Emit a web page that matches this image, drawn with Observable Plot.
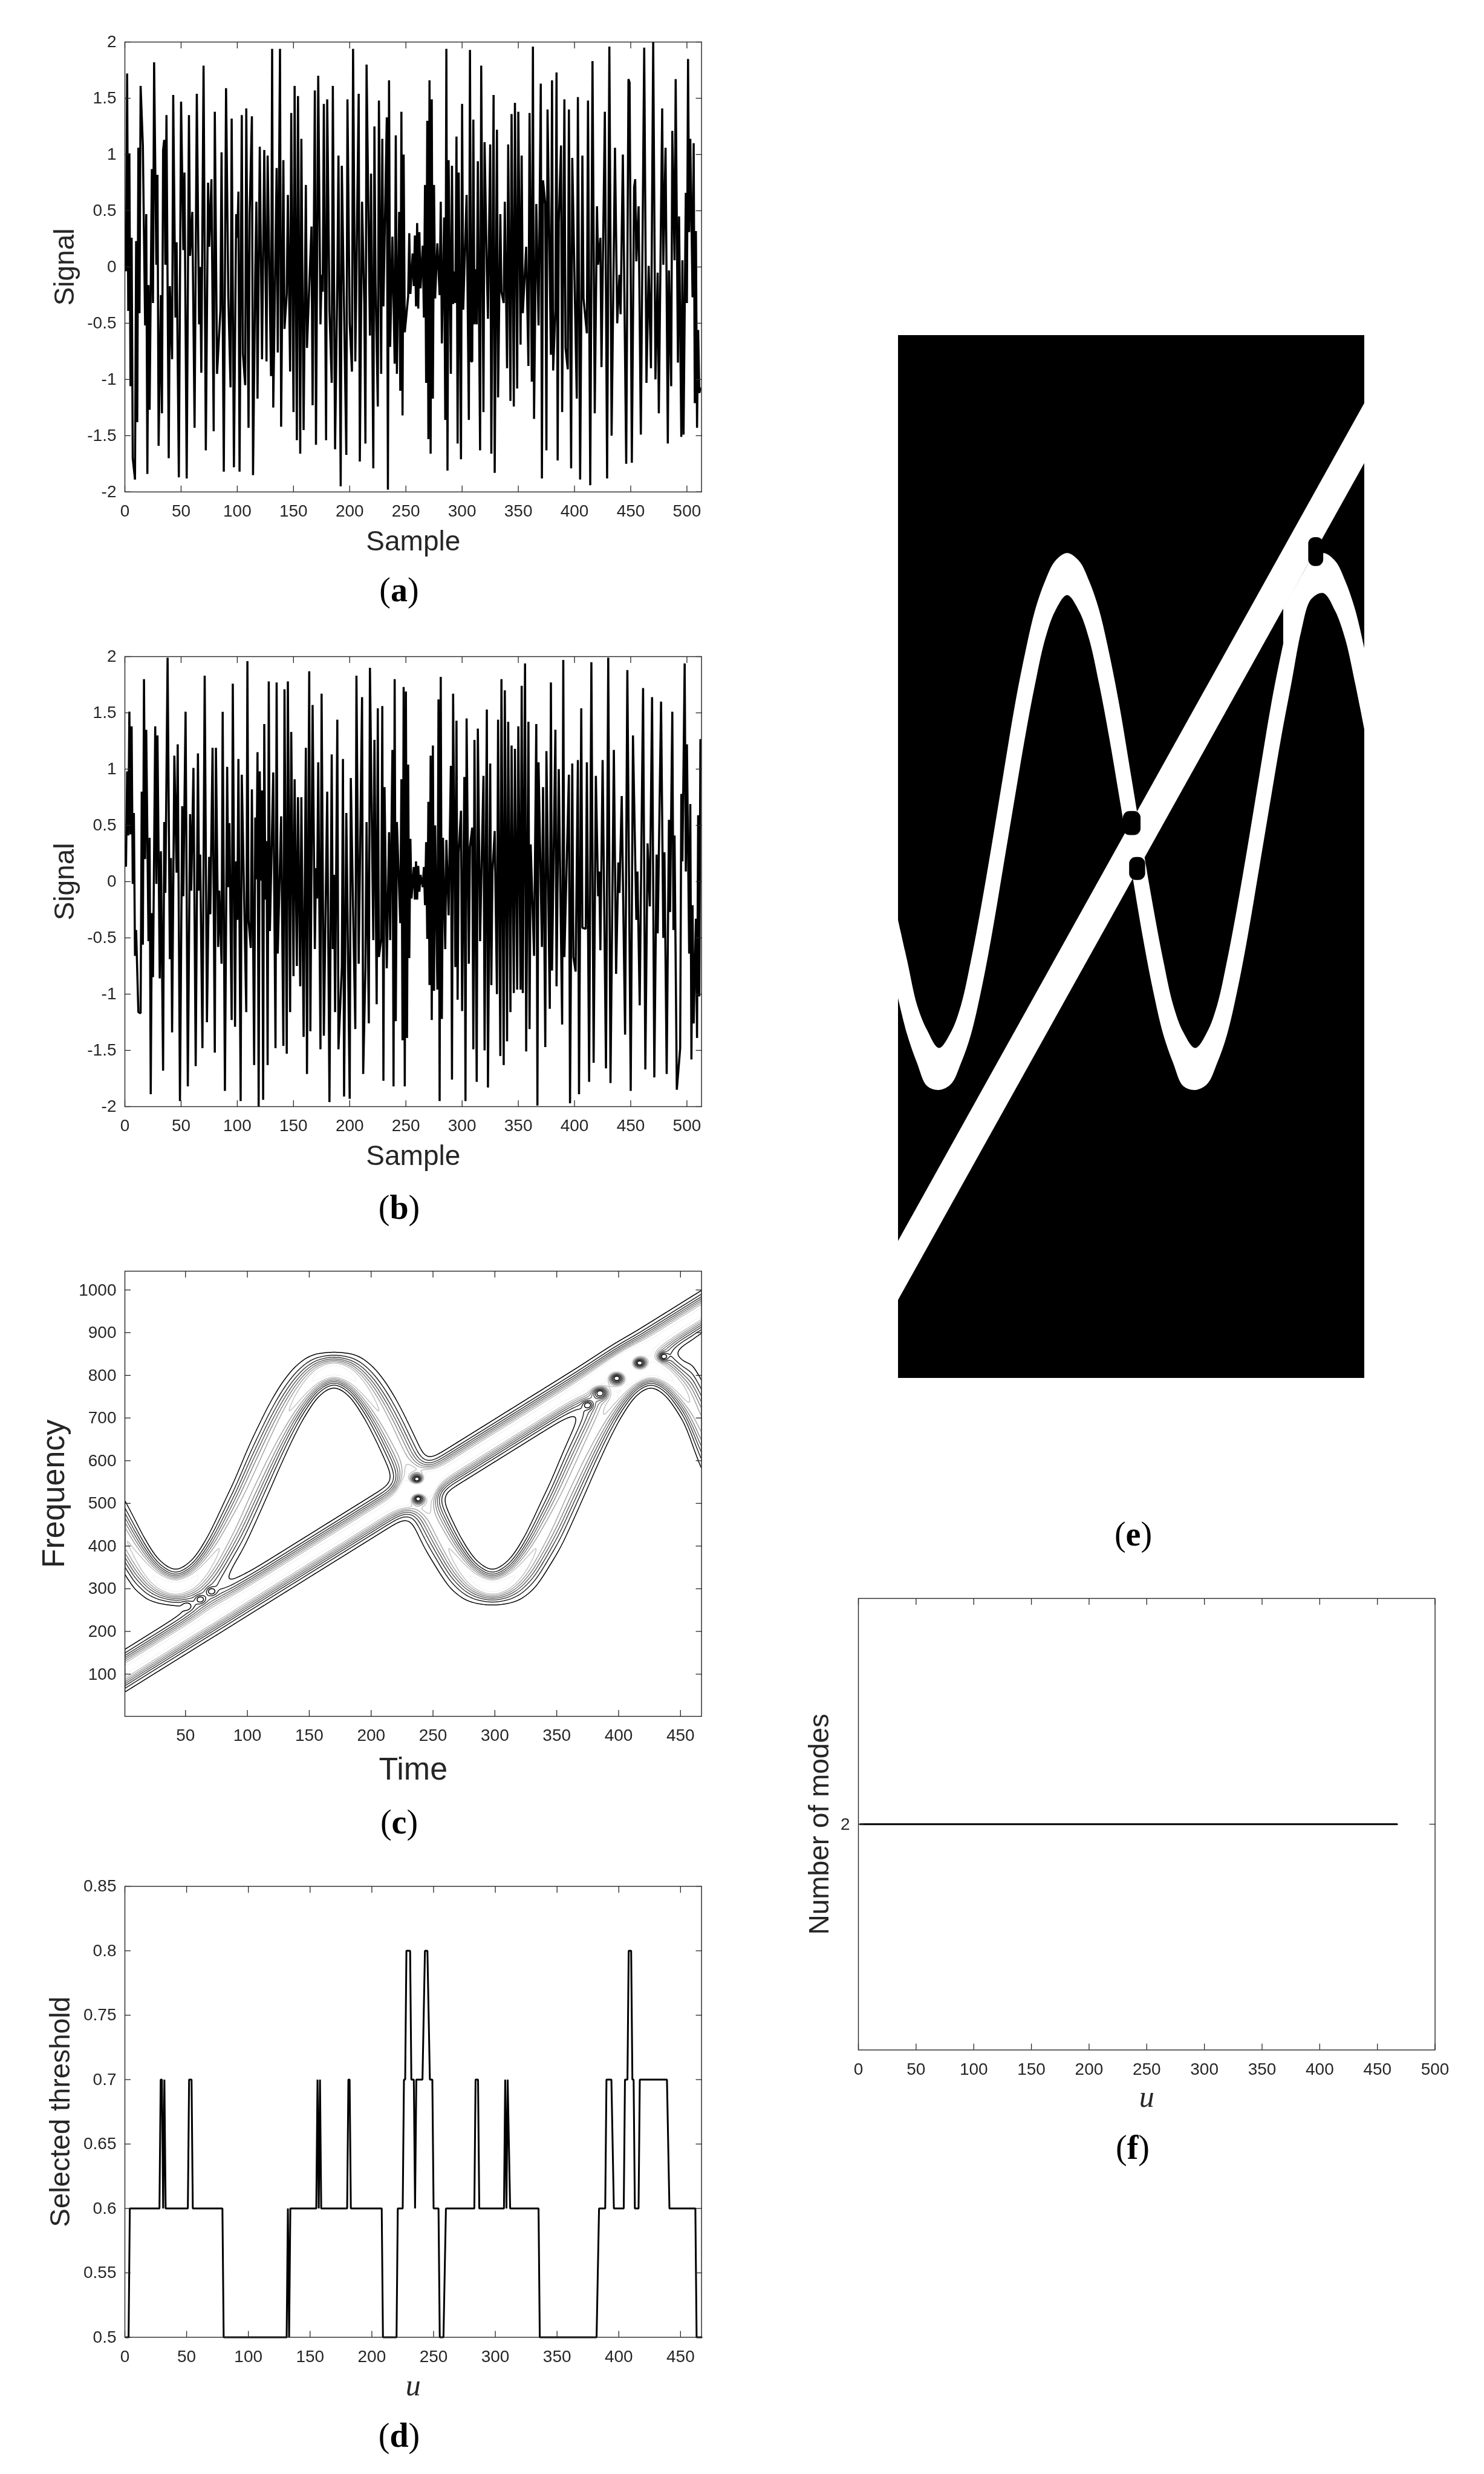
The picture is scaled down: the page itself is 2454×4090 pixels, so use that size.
<!DOCTYPE html>
<html>
<head>
<meta charset="utf-8">
<script src="https://cdn.jsdelivr.net/npm/d3@7"></script>
<script src="https://cdn.jsdelivr.net/npm/@observablehq/plot@0.6"></script>
<style>
html,body{margin:0;padding:0;background:#fff}
#page{position:relative;width:2454px;height:4090px;overflow:hidden;background:#fff}
#page svg{position:absolute;overflow:visible;will-change:transform}
.cap{position:absolute;transform:translate(-50%,-50%);font:56px "Liberation Serif",serif;color:#000;white-space:nowrap}
.cap b{font-weight:700}
</style>
</head>
<body>
<div id="page"></div>
<script>
// Panel (a): signal, extrema
const sampleA=[1,2,3,4,5,6,7,9,10,11,12,13,14,16,18,19,20,21,22,24,25,26,28,29,30,32,33,34,35,36,37,39,40,42,43,45,46,48,50,52,53,55,57,58,60,62,64,66,67,68,70,72,74,75,77,79,80,82,85,86,88,90,92,94,95,97,99,100,101,102,104,105,107,108,110,111,113,114,116,117,118,120,122,124,126,127,130,131,132,135,136,138,139,141,142,144,145,147,148,150,151,153,154,156,157,159,161,162,166,167,169,170,172,174,175,176,177,179,180,182,184,185,187,189,190,192,193,197,198,200,202,203,205,208,209,211,213,214,215,218,219,221,222,223,225,226,228,229,230,233,234,235,236,238,240,241,242,244,245,246,247,248,249,252,253,254,
256,257,258,259,260,261,262,263,265,266,267,268,269,270,271,272,273,274,275,276,278,280,281,282,284,285,286,287,288,290,291,292,293,294,295,296,297,299,300,301,304,306,307,308,309,310,311,312,313,314,316,317,319,320,322,323,325,326,328,329,331,332,334,335,337,338,340,341,343,344,346,347,349,350,352,353,354,357,359,360,362,363,364,366,368,370,371,372,374,375,376,379,380,381,383,384,385,386,388,389,391,392,394,395,397,398,402,403,405,407,408,411,412,414,416,418,420,421,423,424,427,429,431,433,436,438,440,441,443,446,448,449,451,453,454,455,457,459,462,464,466,468,470,472,474,475,478,479,481,483,484,486,487,489,490,492,493,495,496,497,499,500,501,502,503,505,506,507,508,509,510,511,512];
const valueA=[-.03,1.72,-.39,1.01,-1.06,.26,-1.7,-1.89,.23,-1.38,1.06,-.41,1.61,1.08,-.52,.47,-1.84,-.16,-1.27,.87,-.32,1.82,.02,.82,-1.59,-.25,-1.3,1.04,1.13,.02,1.35,-1.7,-.17,-.82,1.53,-.45,.22,-1.87,1.47,.15,.84,-1.88,1.35,.1,.49,-1.43,1.54,-.51,0,-.94,1.79,-1.63,.75,.18,.78,-1.46,1.38,-.95,-.38,1.02,-1.82,1.59,-.26,-1.07,1.32,-1.78,.47,.26,.67,-1.82,1.35,-.77,-1.05,1.41,-1.43,.47,1.34,-1.85,-.04,.58,-1.17,1.07,-.82,1.04,-.84,.99,-.97,1.94,-1.25,.88,-.76,1.94,-1.42,.95,-.55,-.24,.64,-.93,1.37,-1.29,1.61,-1.54,1.52,-1.66,1.14,-1.45,.73,-.72,.36,-1.23,1.57,-1.58,1.7,-.51,-.07,-.22,1.45,-1.54,1.49,-.39,-1.03,1.61,-1.62,-.11,.99,-1.95,.9,-1.67,1.49,-.5,-.93,1.94,-.84,1.54,-1.73,.58,-.34,-1.57,1.8,-.61,.83,-1.79,1.25,-.15,-1.24,1.48,-.95,1.14,-.35,1.33,-1.98,1.66,-.71,.27,-.86,1.17,-.95,.49,-1.1,1.38,-1.32,1,-.58,-.26,.3,-.24,
.12,-.17,.28,-.35,.39,-.37,.31,-.19,.19,-.45,.73,-1.03,1.3,-1.53,1.66,-1.66,1.49,-1.17,.73,-.28,.21,-.25,.58,-.68,.44,-1.36,1.94,-1.81,.95,-.95,.9,-.33,-.04,-.32,1.16,-1.57,.84,-1.71,1.45,-.38,.64,-1.36,1.93,-.84,-.84,1.31,-.51,-.02,-.51,.94,-1.63,1.79,-1.29,1.11,-.04,-.46,1.09,-1.66,1.53,-1.83,1.22,-1.16,.47,-.22,-.32,.58,-.9,1.09,-1.19,1.36,-1.24,1.46,-1.08,1.38,-.69,.99,-.41,.18,-.88,1.37,-1.02,1.96,-1.35,.56,-.52,1.63,-1.88,.77,.56,-1.63,1.4,-.78,1.66,-.92,-.38,1.73,-1.72,.4,1.08,-1.29,1.49,-.72,-.91,1.4,-1.79,.97,-1.17,1.51,-1.89,.99,-.28,-.59,1.48,-1.94,1.83,-1.3,.54,.02,.26,-.89,1.38,-1.88,1.96,-1.5,1.06,-.5,-.07,-.42,1,-1.75,1.67,1.64,-1.74,.71,.78,.05,.54,-1.49,1.95,-1.03,.01,-.9,2,-1,-.05,-1.3,1.41,.02,1.06,-1.57,-.03,-1.06,1.21,.06,1.67,-.85,.45,-1.51,.06,-1.49,.66,-.32,1.85,.31,1.14,-.27,1.1,-1.21,.32,-1.43,-.56,-1.12,-1.08];

// Panel (b): signal, extrema
const sampleB=[1,2,3,4,5,6,7,8,9,10,12,14,15,16,17,18,19,21,22,23,24,25,27,28,29,31,32,34,35,36,38,40,41,42,44,46,47,49,51,52,54,56,58,59,61,63,65,66,67,69,71,73,75,76,78,80,81,83,84,86,87,89,91,92,93,95,96,98,99,100,101,103,104,108,109,110,112,113,115,116,117,118,119,120,121,122,123,124,125,126,127,128,129,132,134,135,136,139,141,142,144,145,147,148,150,151,153,154,156,157,159,161,162,164,165,167,169,170,171,172,174,175,177,180,182,184,185,186,187,189,190,193,194,195,197,200,201,203,205,206,208,211,212,214,215,217,218,221,222,224,225,226,228,229,230,231,233,235,236,238,239,240,241,242,245,246,247,248,249,250,251,252,253,254,255,257,258,259,
260,261,262,263,265,266,267,268,269,270,271,272,273,274,275,276,278,279,280,281,282,283,285,286,288,290,291,292,294,295,296,297,299,300,302,303,304,306,307,309,310,311,313,314,316,317,319,320,322,323,325,326,327,329,331,332,334,335,337,338,340,341,343,344,346,347,349,350,352,353,354,356,357,359,360,361,364,366,367,368,371,372,374,375,378,379,380,383,384,386,389,390,391,395,396,398,399,401,403,404,406,407,410,411,413,415,417,419,421,422,423,425,428,430,432,435,437,439,440,442,445,447,450,452,455,456,458,461,463,465,467,469,471,473,474,477,479,480,482,484,485,487,488,489,491,494,495,496,498,499,500,502,503,504,505,506,508,509,510,511,512];
const valueB=[.14,.98,.41,1.51,.42,1.38,-.02,.61,-.66,-.43,-1.16,-1.17,.8,-.56,1.8,.2,1.35,-.53,.39,-1.89,-.28,-.85,1.38,-.02,1.3,-.86,.27,-1.68,.53,-.1,1.99,-.69,.21,-1.34,1.12,.08,1.22,-1.95,.67,-.13,1.51,-1.82,.6,-.08,1.01,-1.64,1.14,-.08,.24,-1.48,1.83,-1.25,.22,-.29,1.19,-1.52,1.19,-.58,-.08,-.73,1.51,-1.86,1.02,-.05,.52,-1.23,1.76,-1.29,.18,-.34,1.09,-1.95,.95,-1.16,1.96,-.34,-.59,.82,-1.63,.57,.02,1.15,-2,.98,.01,.81,-1.94,1.4,-.16,.36,-1.63,1.78,-.44,.97,-1.48,1.77,-.64,.58,-1.46,1.71,-1.53,1.78,-1.16,1.33,-.84,.91,-.75,.75,-.93,.75,-1.38,1.19,-1.71,1.87,-1.33,1.57,-.6,.12,-.15,1.06,-1.49,1.67,-1.37,.8,-1.96,1.13,-.6,.06,-1.16,1.44,-1.49,-.76,1.09,-1.91,.61,-1.93,.92,-.24,-1.31,1.83,-.73,1.64,-1.71,-.76,.53,-1.26,1.9,-.52,1.26,-1.09,1.54,-.67,-.51,1.56,-1.77,.84,-.77,.44,-.52,1.17,-1.82,1.8,-1.24,.53,-.37,.91,-1.41,1.73,-1.82,1.69,-1.39,1.04,-.68,.38,-.15,.13,-.16,.18,
-.16,.14,-.09,.06,-.05,.13,-.21,.35,-.51,.71,-.92,1.12,-1.23,1.21,-.97,.5,-.96,1.62,-1.95,1.82,-1.22,.39,-.6,.37,-.3,1.03,-1.76,1.67,-.76,1.43,-1.05,.26,.63,-1.15,.93,-1.95,1.45,-.73,.31,.48,-1.49,1.26,-1.78,1.36,-.53,-.01,.94,-1.5,1.53,-1.83,1.05,-.92,.09,.45,-1,1.44,-1.55,1.8,-1.63,1.7,-1.42,1.42,-1.16,1.21,-.99,1.18,-.96,1.38,-.96,1.74,-.99,1.94,-1.51,1.42,-1.31,.33,-.66,1.4,-1.99,1.06,-.58,.84,-1.47,1.16,-1.13,1.77,-.79,1.35,-.93,1,-1.27,1.97,-.67,.95,-1.97,1.05,-.67,-.8,1.08,-1.89,1.54,-.41,-.42,1.06,-1.78,1.95,-1.61,.94,-.13,.09,-.61,1.08,-1.66,1.99,-1.79,1.17,-.82,.17,-.1,.76,-1.36,1.88,-1.86,1.3,-.34,.09,-1.1,1.72,-1.67,.34,-.22,1.64,-1.74,.24,-.46,1.6,-.5,.26,-1.71,.55,-.27,1.51,-.43,.41,-1.85,-1.48,.78,.18,1.94,.09,1.22,-.64,.69,-1.58,-.21,-1.26,-.33,-1.39,.59,-1.02,1.26];

// Panels (c) and (e): the two ridges of the time-frequency picture
const ridgeTime=[1,10,20,30,42,54,64,74,84,94,106,118,128,138,148,158,170,182,192,202,212,222,234,246,256,266,276,286,298,310,320,330,340,350,362,374,384,394,404,414,426,438,448,458,467];
const contourRidgeFreq=[420,377,339,315,304,315,339,377,427,483,558,632,689,738,776,801,812,801,776,738,689,632,558,483,427,377,339,315,304,315,339,377,427,483,558,632,689,738,776,801,812,801,776,738,685];
const chirpTime=[1,467];
const chirpFreq=[108,949];
// Interference nulls between the ridges in (c)
const nullTime=[237,238,375,385,398.5,417,436.5,51,62,71];
const nullFreq=[557,511,730,758,793,829,844,259,275,294];
const nullSpread=[1,1,.55,.85,1,1,.55,.5,.5,.5];

// Panel (d)
const thresholdU=[1,3,4,28,29,30,31,32,33,51,52,54,55,79,80,131,132,133,134,155,156,157,158,159,180,181,182,183,208,209,220,221,225,226,227,228,231,232,234,235,236,241,243,245,247,249,250,254,255,258,260,283,284,286,287,307,308,309,310,312,335,336,382,384,389,390,394,396,404,405,407,408,410,411,412,413,416,417,439,441,462,463,467];
const thresholdV=[.5,.5,.6,.6,.7,.7,.6,.7,.6,.6,.7,.7,.6,.6,.5,.5,.6,.5,.6,.6,.7,.6,.7,.6,.6,.7,.7,.6,.6,.5,.5,.6,.6,.7,.7,.8,.8,.7,.7,.6,.7,.7,.8,.8,.7,.7,.6,.6,.5,.5,.6,.6,.7,.7,.6,.6,.7,.6,.7,.6,.6,.5,.5,.6,.6,.7,.7,.6,.6,.7,.7,.8,.8,.7,.7,.6,.6,.7,.7,.6,.6,.5,.5];

// Panel (e): binary mask, band edges
const maskSineUpper=[459,419,374,349,331,347,374,419,472,530,603,675,726,769,798,818,826,818,798,769,726,675,603,530,472,419,374,347,331,347,374,419,472,530,603,675,726,769,798,818,826,818,798,769,731];
const maskSineLower=[381,345,316,293,289,295,316,345,388,440,511,583,642,695,740,768,784,768,740,695,642,583,511,440,388,345,316,293,289,295,316,345,388,440,511,583,642,695,748,780,786,768,740,695,650];
const maskChirpTime=[1,467];
const maskChirpUpper=[138,976];
const maskChirpLower=[79,916];
const bridgeTime=[386,392,400,408,414,418];
const bridgeLower=[735,750,775,795,812,822];
const bridgeUpper=[771,782,796,810,821,828];
const bayStart=[225.8,232,411];
const bayEnd=[243.4,248,426];
const bayLow=[544,499,813];
const bayHigh=[568,522,842];

// Panel (f)
const modesU=[1.5,467];
const modesN=[2,2];

// Tick values
const signalTicksX=[0,50,100,150,200,250,300,350,400,450,500];
const signalTicksY=[-2,-1.5,-1,-.5,0,.5,1,1.5,2];
const freqTicksX=[50,100,150,200,250,300,350,400,450];
const freqTicksY=[100,200,300,400,500,600,700,800,900,1000];
const thresholdTicksX=[0,50,100,150,200,250,300,350,400,450];
const thresholdTicksY=[.5,.55,.6,.65,.7,.75,.8,.85];
const modesTicksX=[0,50,100,150,200,250,300,350,400,450,500];
const modesTicksY=[2];

const INK="#262626";
const FONT='"Liberation Sans",Arial,sans-serif';
const page=document.getElementById("page");

function place(svg,left,top){svg.style.left=left+"px";svg.style.top=top+"px";page.appendChild(svg);}

function axes({ticksX,ticksY,xLabel,yLabel,xItalic,yDx,xDy,labelSize=46,tickFontSize=28}){
  const T=10;
  const common={tickSize:-T,stroke:INK,fill:INK,fontSize:tickFontSize,fontFamily:FONT,label:null,strokeWidth:1.3};
  return [
    Plot.axisX({...common,anchor:"bottom",ticks:ticksX,tickPadding:T+21,tickFormat:d=>String(d)}),
    Plot.axisX({...common,anchor:"top",ticks:ticksX,tickFormat:()=>""}),
    Plot.axisY({...common,anchor:"left",ticks:ticksY,tickPadding:T+14,tickFormat:d=>String(d)}),
    Plot.axisY({...common,anchor:"right",ticks:ticksY,tickFormat:()=>""}),
    Plot.text([xLabel],{frameAnchor:"bottom",dy:xDy,lineAnchor:"middle",fill:INK,fontSize:xItalic?50:labelSize,fontFamily:xItalic?'"Liberation Serif",serif':FONT,fontStyle:xItalic?"italic":"normal"}),
    Plot.text([yLabel],{frameAnchor:"left",dx:-yDx,rotate:-90,textAnchor:"middle",lineAnchor:"middle",fill:INK,fontSize:labelSize,fontFamily:FONT}),
    Plot.frame({stroke:INK,strokeWidth:1.4})
  ];
}

function panel({left,right,top,bottom,x,y,marks,color}){
  const mL=190,mR=30,mT=20,mB=120;
  const svg=Plot.plot({
    width:right-left+mL+mR,height:bottom-top+mT+mB,
    marginLeft:mL,marginRight:mR,marginTop:mT,marginBottom:mB,
    x:{domain:x,axis:null},y:{domain:y,axis:null},color,
    style:{background:"transparent",fontFamily:FONT,overflow:"visible"},
    marks
  });
  place(svg,left-mL,top-mT);
}

function signalPanel(top,bottom,sx,sy){
  panel({left:205.7,right:1159.3,top,bottom,x:[0,513],y:[-2,2],marks:[
    Plot.line(sy,{x:sx,y:sy,stroke:"#000",strokeWidth:3.5,strokeLinejoin:"bevel",clip:true}),
    ...axes({ticksX:signalTicksX,ticksY:signalTicksY,xLabel:"Sample",yLabel:"Signal",xDy:82,yDx:99})
  ]});
}
signalPanel(68.5,812.3,sampleA,valueA);
signalPanel(1084.7,1828.7,sampleB,valueB);

// Panel (c): magnitude surface built from the read ridges and nulls
function hermiteTable(xs,ys,x0,x1){
  const n=xs.length,m=xs.map((_,i)=>(ys[Math.min(i+1,n-1)]-ys[Math.max(i-1,0)])/(xs[Math.min(i+1,n-1)]-xs[Math.max(i-1,0)]));
  const out=[];
  for(let t=x0;t<=x1;t++){
    let i=d3.bisectRight(xs,t)-1;i=Math.max(0,Math.min(n-2,i));
    const h=xs[i+1]-xs[i],u=(t-xs[i])/h,u2=u*u,u3=u2*u;
    out.push((2*u3-3*u2+1)*ys[i]+(u3-2*u2+u)*h*m[i]+(-2*u3+3*u2)*ys[i+1]+(u3-u2)*h*m[i+1]);
  }
  return out;
}
const ridgeTable=hermiteTable(ridgeTime,contourRidgeFreq,0,468);
const slopeTable=ridgeTable.map((_,i)=>{
  const a=Math.max(0,i-6),b=Math.min(468,i+6);
  return (ridgeTable[b]-ridgeTable[a])/(b-a);
});
const chirpSlope=(chirpFreq[1]-chirpFreq[0])/(chirpTime[1]-chirpTime[0]);
const L0=.1;
function bump(df,W){
  const A=Math.sqrt(42/W);
  const s2=W*W/(2*Math.log(A/L0));
  return A*Math.exp(-df*df/(2*s2));
}
function magnitude(t,f){
  const i=Math.max(0,Math.min(467,Math.floor(t))),u=t-i;
  const r=ridgeTable[i]+(ridgeTable[i+1]-ridgeTable[i])*u;
  const s=slopeTable[i]+(slopeTable[i+1]-slopeTable[i])*u;
  const W=Math.sqrt(42*42+240*s*s);
  const g1=bump(f-r,W);
  const g2=bump(f-(chirpFreq[0]+chirpSlope*(t-chirpTime[0])),50);
  let v=g1+g2+.8*Math.sqrt(g1*g2);
  for(let k=0;k<nullTime.length;k++){
    const w=nullSpread[k];
    const dt=(t-nullTime[k])/(5*w),df=(f-nullFreq[k])/(12*w);
    const q=dt*dt+df*df;
    if(q<16)v*=1-Math.exp(-q/2);
  }
  return v;
}
panel({left:205.7,right:1159.3,top:2101,bottom:2837,x:[1,467],y:[1,1044],
  color:{type:"linear",domain:[.1,.8],range:["#000","#e4e4e4"]},
  marks:[
    Plot.contour({value:magnitude,x1:1,x2:467,y1:1,y2:1044,pixelSize:1,thresholds:[.1,.2,.3,.4,.5,.6,.7,.85],stroke:"value",strokeWidth:1.5,clip:true}),
    ...axes({ticksX:freqTicksX,ticksY:freqTicksY,xLabel:"Time",yLabel:"Frequency",xDy:88,yDx:117,labelSize:52})
  ]});

// Panel (d)
panel({left:205.7,right:1159.3,top:3118,bottom:3863.5,x:[0,467],y:[.5,.85],marks:[
  Plot.line(thresholdV,{x:thresholdU,y:thresholdV,stroke:"#000",strokeWidth:3,strokeLinejoin:"bevel"}),
  ...axes({ticksX:thresholdTicksX,ticksY:thresholdTicksY,xLabel:"u",xItalic:true,yLabel:"Selected threshold",xDy:80,yDx:106})
]});

// Panel (e): no axes, black background, white bands
{
  const svg=Plot.plot({
    width:771,height:1724,margin:0,
    x:{domain:[1,467],axis:null},y:{domain:[1,1044],axis:null},
    style:{background:"#000",overflow:"hidden"},
    marks:[
      Plot.areaY(ridgeTime,{x:ridgeTime,y1:maskSineLower,y2:maskSineUpper,fill:"#fff",curve:"catmull-rom"}),
      Plot.areaY(maskChirpTime,{x:maskChirpTime,y1:maskChirpLower,y2:maskChirpUpper,fill:"#fff"}),
      Plot.areaY(bridgeTime,{x:bridgeTime,y1:bridgeLower,y2:bridgeUpper,fill:"#fff"}),
      Plot.rect(bayStart,{x1:bayStart,x2:bayEnd,y1:bayLow,y2:bayHigh,fill:"#000",rx:11})
    ]
  });
  place(svg,1485,554);
}

// Panel (f)
panel({left:1419,right:2372.6,top:2642,bottom:3388.5,x:[0,500],y:[1,3],marks:[
  Plot.line(modesN,{x:modesU,y:modesN,stroke:"#000",strokeWidth:3}),
  ...axes({ticksX:modesTicksX,ticksY:modesTicksY,xLabel:"u",xItalic:true,yLabel:"Number of modes",xDy:78,yDx:64})
]});

// Captions
[["a",660,975],["b",660,1996],["c",660,3012],["d",660,4026],["e",1874,2536],["f",1873,3550]].forEach(([l,x,y])=>{
  const d=document.createElement("div");d.className="cap";d.style.left=x+"px";d.style.top=y+"px";
  d.innerHTML="(<b>"+l+"</b>)";page.appendChild(d);
});
</script>
</body>
</html>
